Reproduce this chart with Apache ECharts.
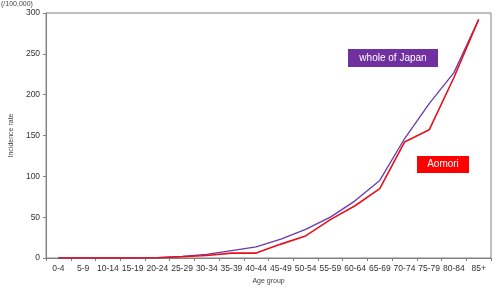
<!DOCTYPE html>
<html><head><meta charset="utf-8">
<script src="https://cdn.jsdelivr.net/npm/echarts@6/dist/echarts.min.js"></script>
<style>html,body{margin:0;padding:0;background:#fff}#c{width:499px;height:290px}</style>
</head><body><div id="c"></div>
<script>
const categories = ['0-4','5-9','10-14','15-19','20-24','25-29','30-34','35-39','40-44','45-49','50-54','55-59','60-64','65-69','70-74','75-79','80-84','85+'];
const japan  = [0,0,0,0,0.5,2,4.5,9,13.5,23,35,50,70,95,146,189,227,292];
const aomori = [0,0,0,0,0.3,1.5,3,6,6,17,27,47,64,85,142,157,221,292];
const yTicks = [0,50,100,150,200,250,300];

const chart = echarts.init(document.getElementById('c'), null, {renderer:'canvas'});
const axisCol = '#808080';
chart.setOption({
  animation:false,
  textStyle:{fontFamily:'Liberation Sans, Arial, sans-serif'},
  grid:{left:37,right:8,top:13,bottom:31,show:true,borderColor:axisCol,borderWidth:1},
  xAxis:{type:'category',data:categories,boundaryGap:true,
    axisLine:{lineStyle:{color:axisCol}},
    axisTick:{show:true,alignWithLabel:false,length:3,lineStyle:{color:axisCol}},
    axisLabel:{color:'#333',fontSize:8.5,margin:6,interval:0},
    name:'Age group',nameLocation:'middle',nameGap:20,nameTextStyle:{color:'#444',fontSize:7}},
  yAxis:{type:'value',min:yTicks[0],max:yTicks[yTicks.length-1],interval:50,
    splitLine:{show:false},
    axisLine:{show:true,lineStyle:{color:axisCol}},
    axisTick:{show:true,length:3,lineStyle:{color:axisCol}},
    axisLabel:{color:'#333',fontSize:8.5,margin:6},
    name:'Incidence rate',nameLocation:'middle',nameGap:26,nameRotate:90,nameTextStyle:{color:'#444',fontSize:7}},
  series:[
    {name:'whole of Japan',type:'line',data:japan,symbol:'none',lineStyle:{color:'#6a3aa8',width:1.3},z:2},
    {name:'Aomori',type:'line',data:aomori,symbol:'none',lineStyle:{color:'#e8101a',width:1.6},z:3}
  ],
  graphic:[
    {type:'text',left:1,top:1,style:{text:'(/100,000)',fill:'#444',fontSize:7,fontFamily:'Liberation Sans, Arial, sans-serif'}},
    {type:'group',left:348,top:49,children:[
      {type:'rect',shape:{x:0,y:0,width:90,height:18},style:{fill:'#7030a0'}},
      {type:'text',style:{x:45,y:9,text:'whole of Japan',fill:'#fff',fontSize:10,align:'center',verticalAlign:'middle',fontFamily:'Liberation Sans, Arial, sans-serif'}}
    ]},
    {type:'group',left:417,top:156,children:[
      {type:'rect',shape:{x:0,y:0,width:52,height:17},style:{fill:'#ff0000'}},
      {type:'text',style:{x:26,y:8.5,text:'Aomori',fill:'#fff',fontSize:10,align:'center',verticalAlign:'middle',fontFamily:'Liberation Sans, Arial, sans-serif'}}
    ]}
  ]
});
</script></body></html>
